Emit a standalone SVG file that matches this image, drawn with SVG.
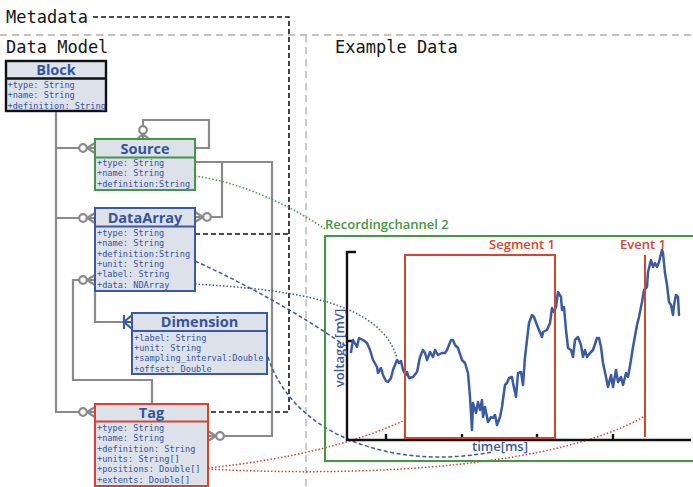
<svg xmlns="http://www.w3.org/2000/svg" width="693" height="487" viewBox="0 0 693 487">
  <defs>
    <style>
      .lbl { font-family: "DejaVu Sans Mono", "Liberation Mono", monospace; font-size: 17px; fill: #151515; }
      .ttl { font-family: "Open Sans", "DejaVu Sans", sans-serif; font-size: 14.5px; font-weight: bold; fill: #34559e; text-anchor: middle; }
      .att { font-family: "DejaVu Sans Mono", "Liberation Mono", monospace; font-size: 8.6px; fill: #34559e; }
      .box { fill: #dde1ea; stroke-width: 2; }
      .k { stroke: #111; stroke-width: 2.4; }
      .g { stroke: #3f9a42; }
      .b { stroke: #3b5aa5; }
      .r { stroke: #d8452f; }
      .conn { fill: none; stroke: #8a8a8a; stroke-width: 2.2; }
      .cf { fill: #fff; stroke: #8a8a8a; stroke-width: 2.2; }
      .meta { fill: none; stroke: #151515; stroke-width: 1.6; stroke-dasharray: 5 3; }
      .div { fill: none; stroke: #b0b0b0; stroke-width: 1.3; stroke-dasharray: 7 5; }
      .pt { font-family: "Open Sans", "DejaVu Sans", sans-serif; font-size: 13px; font-weight: 600; }
    </style>
  </defs>

  <!-- section dividers -->
  <path class="div" d="M0,35 H693 M306,35 V487"/>

  <!-- section labels -->
  <text class="lbl" x="6" y="23">Metadata</text>
  <text class="lbl" x="6" y="53">Data Model</text>
  <text class="lbl" x="335" y="53">Example Data</text>

  <!-- metadata links -->
  <path class="meta" d="M93,17 H289 V412 H209 M195,234 H289"/>

  <!-- connectors -->
  <g id="connectors">
    <path class="conn" d="M56,112 V412 H79 M56,148 H79 M56,218 H79"/>
    <path class="conn" d="M195,148 H209 V120 H143 V126"/>
    <path class="conn" d="M195,162 H272 V436 H224 M222,162 V217 H211"/>
    <path class="conn" d="M79,280 H73 V380 H152 V404"/>
    <path class="conn" d="M95,291 V322 H124"/>
    <!-- crow's feet with circles -->
    <path class="conn" d="M87,412 L95,407 M87,412 H95 M87,412 L95,417"/>
    <circle class="cf" cx="83" cy="412" r="3.8"/>
    <path class="conn" d="M87,148 L95,143 M87,148 H95 M87,148 L95,153"/>
    <circle class="cf" cx="83" cy="148" r="3.8"/>
    <path class="conn" d="M87,218 L95,213 M87,218 H95 M87,218 L95,223"/>
    <circle class="cf" cx="83" cy="218" r="3.8"/>
    <path class="conn" d="M87,280 L95,275 M87,280 H95 M87,280 L95,285"/>
    <circle class="cf" cx="83" cy="280" r="3.8"/>
    <path class="conn" d="M143,134 L137,139 M143,134 V139 M143,134 L149,139"/>
    <circle class="cf" cx="143" cy="130" r="3.8"/>
    <path class="conn" d="M203,217 L195,212 M203,217 H195 M203,217 L195,222"/>
    <circle class="cf" cx="207" cy="217" r="3.8"/>
    <path class="conn" d="M216,436 L208,431 M216,436 H208 M216,436 L208,441"/>
    <circle class="cf" cx="220" cy="436" r="3.8"/>
    <!-- one-or-many foot on Dimension -->
    <path fill="none" stroke="#3b5aa5" stroke-width="2.2" d="M124,315 V329 M124,322 L132,315 M124,322 H132 M124,322 L132,329"/>

    <!-- links into the example data -->
    <path fill="none" stroke="#3f9a42" stroke-width="1.5" stroke-dasharray="1.5 2" d="M195,176 C240,182 290,205 325,229"/>
    <path fill="none" stroke="#3b5aa5" stroke-width="1.5" stroke-dasharray="1.5 2" d="M195,284 C290,290 380,300 397,358"/>
    <path fill="none" stroke="#3b5aa5" stroke-width="1.5" stroke-dasharray="4 2.5" d="M195,261 Q280,300 347,347"/>
    <path fill="none" stroke="#3b5aa5" stroke-width="1.5" stroke-dasharray="4 2.5" d="M268,357 C295,440 400,470 492,452"/>
    <path fill="none" stroke="#d8452f" stroke-width="1.5" stroke-dasharray="1.5 2" d="M208,468 Q330,455 405,420"/>
    <path fill="none" stroke="#d8452f" stroke-width="1.5" stroke-dasharray="1.5 2" d="M208,469 C380,478 560,465 645,416"/>
  </g>

  <!-- entities -->
  <g id="block">
    <rect class="box k" x="6" y="61" width="100" height="50"/>
    <line class="k" x1="6" y1="78.5" x2="106" y2="78.5"/>
    <text class="ttl" x="56" y="75">Block</text>
    <text class="att" x="7.5" y="88" font-size="8.3">+type: String</text>
    <text class="att" x="7.5" y="98.3" font-size="8.3">+name: String</text>
    <text class="att" x="7.5" y="108.6" font-size="8.3">+definition: String</text>
  </g>

  <g id="source">
    <rect class="box g" x="95" y="139" width="100" height="51"/>
    <line class="g" stroke-width="2" x1="95" y1="157.5" x2="195" y2="157.5"/>
    <text class="ttl" x="145" y="154">Source</text>
    <text class="att" x="97" y="166">+type: String</text>
    <text class="att" x="97" y="176.3">+name: String</text>
    <text class="att" x="97" y="186.6">+definition:String</text>
  </g>

  <g id="dataarray">
    <rect class="box b" x="95" y="208" width="100" height="83"/>
    <line class="b" stroke-width="2" x1="95" y1="226.5" x2="195" y2="226.5"/>
    <text class="ttl" x="145" y="223">DataArray</text>
    <text class="att" x="97" y="236">+type: String</text>
    <text class="att" x="97" y="246.3">+name: String</text>
    <text class="att" x="97" y="256.6">+definition:String</text>
    <text class="att" x="97" y="266.9">+unit: String</text>
    <text class="att" x="97" y="277.2">+label: String</text>
    <text class="att" x="97" y="287.5">+data: NDArray</text>
  </g>

  <g id="dimension">
    <rect class="box b" x="132" y="313" width="135" height="61"/>
    <line class="b" stroke-width="2" x1="132" y1="331" x2="267" y2="331"/>
    <text class="ttl" x="199.5" y="327">Dimension</text>
    <text class="att" x="134" y="341" font-size="9">+label: String</text>
    <text class="att" x="134" y="351.2" font-size="9">+unit: String</text>
    <text class="att" x="134" y="361.4" font-size="9">+sampling_interval:Double</text>
    <text class="att" x="134" y="371.6" font-size="9">+offset: Double</text>
  </g>

  <g id="tag">
    <rect class="box r" x="95" y="404" width="113" height="82"/>
    <line class="r" stroke-width="2" x1="95" y1="421.5" x2="208" y2="421.5"/>
    <text class="ttl" x="151.5" y="418">Tag</text>
    <text class="att" x="97" y="431">+type: String</text>
    <text class="att" x="97" y="441.3">+name: String</text>
    <text class="att" x="97" y="451.6">+definition: String</text>
    <text class="att" x="97" y="461.9">+units: String[]</text>
    <text class="att" x="97" y="472.2">+positions: Double[]</text>
    <text class="att" x="97" y="482.5">+extents: Double[]</text>
  </g>

  <!-- example recording -->
  <g id="recordingchannel">
    <rect x="325" y="236" width="372" height="225" fill="none" stroke="#3f9a42" stroke-width="2"/>
    <text class="pt" x="325" y="229" fill="#3f9a42">Recordingchannel 2</text>
  </g>

  <g id="plot">
    <path fill="none" stroke="#111" stroke-width="2.4" d="M356,252 H347 V440 H691 M347,341 H354 M386,440 V434 M462,440 V434 M537,440 V434 M613,440 V434"/>
    <text class="pt" x="500" y="451" fill="#3b5aa5" text-anchor="middle">time[ms]</text>
    <text class="pt" transform="translate(344,348) rotate(-90)" fill="#3b5aa5" text-anchor="middle">voltage [mV]</text>
    <polyline fill="none" stroke="#3b5aa5" stroke-width="2.5" stroke-linejoin="round" stroke-linecap="round" points="351,352 353,340 357,347 359,338 363,340 367,343 370,350 373,360 377,367 378,373 381,368 383,375 386,381 388,382 391,378 393,370 397,360 399,363 401,361 403,370 406,375 407,372 409,378 413,377 417,372 420,357 423,350 425,353 427,360 430,352 433,357 435,350 438,355 442,353 445,353 447,350 451,340 453,340 455,345 458,348 462,360 465,363 468,373 470,397 472,430 473,403 476,413 478,402 480,410 482,400 483,417 485,407 488,422 491,417 493,418 495,415 497,425 500,417 502,407 504,392 505,385 507,383 509,378 512,377 513,383 516,397 518,373 521,372 523,385 525,357 527,340 529,323 532,315 534,317 537,325 539,330 542,337 543,332 547,330 550,323 552,308 554,312 556,307 558,292 561,297 562,310 564,307 566,330 568,348 571,350 573,357 575,340 578,337 581,345 583,357 585,350 587,357 590,353 593,350 597,338 599,338 601,347 603,363 606,377 608,387 611,375 613,387 616,370 618,382 621,377 623,385 626,373 628,377 631,360 633,347 637,325 639,317 642,302 644,290 647,287 648,272 651,260 653,267 655,263 657,267 659,262 662,250 663,253 665,273 667,285 669,302 671,305 673,315 674,305 676,295 678,297 679,315"/>
  </g>

  <g id="segment">
    <rect x="405" y="255" width="150" height="183" fill="none" stroke="#d8452f" stroke-width="2"/>
    <text class="pt" x="555" y="249" fill="#d8452f" text-anchor="end">Segment 1</text>
  </g>

  <g id="event">
    <line x1="645" y1="255" x2="645" y2="437" stroke="#d8452f" stroke-width="2"/>
    <text class="pt" x="643" y="249" fill="#d8452f" text-anchor="middle">Event 1</text>
  </g>
</svg>
